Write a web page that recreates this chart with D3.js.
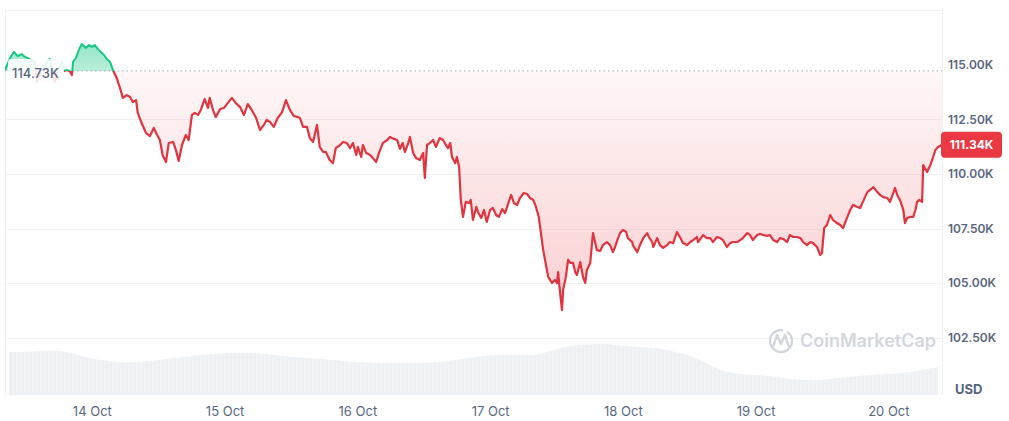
<!DOCTYPE html>
<html>
<head>
<meta charset="utf-8">
<script src="https://cdn.jsdelivr.net/npm/d3@7"></script>
<style>
  html, body { margin: 0; padding: 0; background: #fff; }
  svg { display: block; font-family: Inter, "Noto Sans", sans-serif; }
</style>
</head>
<body>
<svg width="1009" height="421"></svg>
<script>
// hours since 13 Oct 00:00, price in thousands of USD
const priceSeries = [
  [8.3,114.77],[9.2,115.32],[9.9,115.60],[10.6,115.41],[11.3,115.50],[11.9,115.37],[12.4,115.32],
  [13.7,115.14],[14.1,114.22],[15.0,114.86],[16.4,115.28],[17.3,114.22],[17.9,114.77],[18.6,115.14],
  [18.9,114.72],[19.5,114.77],[20.0,114.72],[20.4,114.54],[20.6,115.14],[21.1,115.32],[21.8,115.78],
  [22.2,115.96],[22.9,115.78],[23.5,115.92],[24.0,115.83],[24.5,115.92],[25.1,115.73],[25.6,115.60],
  [26.2,115.46],[26.7,115.28],[27.3,115.14],[27.8,114.77],[28.5,114.40],[29.1,113.94],[29.6,113.49],
  [30.3,113.62],[30.9,113.53],[31.4,113.30],[32.0,113.39],[32.3,112.80],[33.0,112.34],[33.8,111.88],
  [34.5,111.74],[35.2,112.11],[35.8,111.79],[36.3,111.56],[36.8,110.87],[37.4,110.55],[37.9,111.42],
  [38.7,111.47],[39.2,111.10],[39.7,110.60],[40.3,111.33],[41.0,111.79],[41.5,111.56],[42.1,112.71],
  [42.6,112.80],[43.2,112.71],[43.7,112.94],[44.4,113.44],[45.0,113.03],[45.3,113.49],[45.9,112.94],
  [46.4,112.61],[47.2,112.98],[47.9,113.03],[48.6,113.26],[49.3,113.49],[50.0,113.26],[50.8,113.07],
  [51.5,112.71],[52.2,113.21],[52.9,112.94],[53.7,112.57],[54.4,112.02],[55.1,112.25],[55.6,112.48],
  [56.2,112.39],[56.9,112.16],[57.6,112.57],[58.4,112.84],[59.1,113.39],[59.8,112.94],[60.5,112.66],
  [61.3,112.61],[61.6,112.57],[62.2,112.16],[62.9,112.16],[63.4,111.65],[64.0,111.47],[64.7,112.25],
  [65.2,111.24],[65.8,111.01],[66.3,111.01],[67.0,110.64],[67.6,110.50],[68.1,111.19],[68.9,111.33],
  [69.4,111.47],[70.1,111.42],[70.7,111.19],[71.2,111.42],[71.8,110.87],[72.1,111.24],[72.7,110.78],
  [73.0,111.33],[73.6,110.96],[74.3,110.87],[74.8,110.73],[75.4,110.55],[75.9,110.96],[76.6,111.42],
  [77.4,111.56],[77.9,111.70],[78.6,111.61],[79.2,111.56],[79.7,111.15],[80.2,111.42],[80.6,111.01],
  [81.2,111.42],[81.5,111.70],[82.1,110.96],[82.6,110.73],[83.3,110.64],[83.9,110.96],[84.2,109.82],
  [84.6,111.33],[85.1,111.42],[85.7,111.56],[86.2,111.24],[86.9,111.65],[87.5,111.56],[88.0,111.33],
  [88.4,111.19],[88.8,111.42],[89.1,110.78],[89.7,110.50],[90.0,110.78],[90.4,110.32],[90.7,108.81],
  [91.1,108.03],[91.6,108.72],[92.2,108.67],[92.5,108.81],[92.9,107.89],[93.5,108.49],[93.8,108.26],
  [94.4,107.98],[94.9,108.35],[95.4,107.80],[96.0,108.35],[96.5,108.44],[97.1,108.12],[97.6,108.03],
  [98.2,108.39],[98.7,108.21],[99.2,108.58],[99.8,109.04],[100.3,108.67],[100.9,108.58],[101.4,108.90],
  [102.1,109.13],[102.7,109.08],[103.2,108.90],[103.8,108.81],[104.3,108.49],[104.8,108.03],[105.6,106.51],
  [106.5,105.28],[107.2,105.00],[107.7,105.14],[108.1,105.00],[108.3,105.50],[108.6,104.68],[109.0,103.76],
  [109.2,104.68],[109.7,105.28],[110.1,106.06],[110.5,105.92],[111.0,105.92],[111.4,105.50],[111.7,105.37],
  [112.3,105.96],[112.8,105.28],[113.2,105.00],[113.5,105.60],[114.1,105.92],[114.6,107.29],[115.3,106.51],
  [115.9,106.47],[116.4,106.74],[117.1,106.88],[117.7,106.74],[118.2,106.42],[118.6,106.65],[119.0,106.97],
  [119.5,107.29],[120.0,107.43],[120.6,107.34],[120.9,107.06],[121.7,106.88],[121.8,106.74],[122.6,106.42],
  [123.1,106.74],[123.7,107.06],[124.4,107.29],[124.7,107.11],[125.3,106.88],[125.5,106.65],[126.2,107.06],
  [126.7,106.74],[127.3,106.61],[128.0,106.74],[128.5,106.88],[129.1,106.83],[129.4,107.06],[129.8,107.34],
  [130.3,107.11],[130.9,106.83],[131.6,106.74],[132.2,106.88],[132.7,106.97],[133.4,107.11],[133.6,106.88],
  [134.5,107.20],[135.2,107.06],[135.8,107.06],[136.3,106.88],[137.0,107.11],[137.6,107.06],[138.1,106.97],
  [138.8,106.65],[139.4,106.83],[139.9,106.88],[140.7,106.88],[141.2,106.97],[141.7,107.06],[142.5,107.29],
  [143.0,107.20],[143.5,106.97],[144.3,107.20],[144.8,107.25],[145.4,107.20],[146.1,107.16],[146.6,107.20],
  [147.2,106.97],[147.9,106.88],[148.4,107.06],[149.0,107.02],[149.7,106.88],[150.2,107.20],[150.8,107.11],
  [151.5,107.11],[152.1,107.06],[152.6,106.88],[153.3,106.74],[153.9,106.88],[154.4,106.83],[155.1,106.65],
  [155.7,106.28],[156.0,106.38],[156.4,107.52],[156.9,107.66],[157.5,108.12],[158.0,107.89],[158.7,107.75],
  [159.3,107.66],[159.8,107.52],[160.6,108.03],[161.1,108.35],[161.6,108.58],[162.4,108.49],[162.9,108.44],
  [163.4,108.72],[164.2,109.17],[164.7,109.27],[165.3,109.40],[166.0,109.17],[166.5,109.04],[167.1,108.94],
  [167.8,108.90],[168.3,108.72],[168.9,109.13],[169.2,109.36],[169.6,109.04],[170.1,108.81],[170.7,108.35],
  [171.0,107.75],[171.4,107.98],[171.9,108.03],[172.5,108.03],[172.9,108.35],[173.2,108.72],[173.6,108.81],
  [174.1,108.72],[174.3,110.41],[175.0,110.09],[175.6,110.41],[176.1,110.78],[176.5,111.10],[177.0,111.24],
  [177.7,111.34]
];

// 24h volume every 3 hours (billions USD, estimated)
const volumeHours = d3.range(9, 178, 3);
const volumeValues = [
  4.3,4.3,4.4,4.5,4.1,3.6,3.4,3.2,3.3,3.5,3.7,3.9,4.1,4.2,4.2,4.2,4.0,3.8,3.7,3.6,
  3.4,3.3,3.2,3.2,3.2,3.2,3.3,3.5,3.8,4.0,4.0,4.0,4.0,4.6,5.0,5.1,5.1,4.9,4.8,4.7,
  4.4,4.0,3.2,2.4,2.1,2.0,1.9,1.6,1.5,1.5,1.7,1.9,2.0,2.1,2.2,2.5,2.8
];

const openPrice = 114.73;
const lastPrice = 111.34;
const yTicks = [102.5, 105, 107.5, 110, 112.5, 115];
const dayTicks = [14, 15, 16, 17, 18, 19, 20];

const svg = d3.select("svg");
const plotLeft = 5, plotRight = 942, plotTop = 10, plotBottom = 395;

const start = new Date(2025, 9, 13);
const toDate = h => new Date(start.getTime() + h * 3600e3);

const x = d3.scaleTime()
  .domain([toDate(priceSeries[0][0]), toDate(priceSeries[priceSeries.length - 1][0])])
  .range([plotLeft, plotRight]);

const y = d3.scaleLinear().domain([102.5, 115]).range([337.5, 65]);
const vy = d3.scaleLinear().domain([0, 6]).range([plotBottom, plotBottom - 60]);

const defs = svg.append("defs");
const yBase = y(openPrice);

const redGrad = defs.append("linearGradient").attr("id", "redFill")
  .attr("gradientUnits", "userSpaceOnUse").attr("x1", 0).attr("x2", 0)
  .attr("y1", yBase).attr("y2", y(d3.min(priceSeries, d => d[1])));
redGrad.append("stop").attr("offset", 0).attr("stop-color", "#ea3943").attr("stop-opacity", 0.04);
redGrad.append("stop").attr("offset", 1).attr("stop-color", "#ea3943").attr("stop-opacity", 0.24);

const greenGrad = defs.append("linearGradient").attr("id", "greenFill")
  .attr("gradientUnits", "userSpaceOnUse").attr("x1", 0).attr("x2", 0)
  .attr("y1", y(d3.max(priceSeries, d => d[1]))).attr("y2", yBase);
greenGrad.append("stop").attr("offset", 0).attr("stop-color", "#16c784").attr("stop-opacity", 0.45);
greenGrad.append("stop").attr("offset", 1).attr("stop-color", "#16c784").attr("stop-opacity", 0.3);

defs.append("clipPath").attr("id", "above").append("rect")
  .attr("x", plotLeft).attr("y", plotTop).attr("width", plotRight - plotLeft).attr("height", yBase - plotTop);
defs.append("clipPath").attr("id", "below").append("rect")
  .attr("x", plotLeft).attr("y", yBase).attr("width", plotRight - plotLeft).attr("height", plotBottom - yBase);

// frame + grid
svg.append("g").selectAll("line").data(yTicks.filter(t => t < 115)).join("line")
  .attr("x1", plotLeft).attr("x2", plotRight)
  .attr("y1", d => Math.round(y(d)) + 0.5).attr("y2", d => Math.round(y(d)) + 0.5)
  .attr("stroke", "#eff2f5");
svg.append("line").attr("x1", plotLeft).attr("x2", plotRight).attr("y1", plotTop + 0.5).attr("y2", plotTop + 0.5).attr("stroke", "#eff2f5");
svg.append("line").attr("x1", plotLeft + 0.5).attr("x2", plotLeft + 0.5).attr("y1", plotTop).attr("y2", plotBottom).attr("stroke", "#eff2f5");
svg.append("line").attr("x1", plotRight + 0.5).attr("x2", plotRight + 0.5).attr("y1", plotTop).attr("y2", plotBottom).attr("stroke", "#eff2f5");

// volume
const volData = volumeHours.map((h, i) => [toDate(h), volumeValues[i]]);
svg.append("path").datum(volData)
  .attr("fill", "#eef1f4")
  .attr("d", d3.area().curve(d3.curveBasis)
    .x(d => x(d[0])).y0(plotBottom).y1(d => vy(d[1])));
svg.append("g").selectAll("line").data(d3.range(plotLeft + 4, plotRight, 4)).join("line")
  .attr("x1", d => d).attr("x2", d => d).attr("y1", 335).attr("y2", plotBottom)
  .attr("stroke", "#fff").attr("stroke-opacity", 0.35);

// watermark
const wm = svg.append("g").attr("fill", "none").attr("stroke", "#d3d7dd");
wm.append("path").attr("stroke-width", 2.4)
  .attr("d", d3.arc()({ innerRadius: 11, outerRadius: 11, startAngle: 0.6, endAngle: 2 * Math.PI + 0.2 }))
  .attr("transform", "translate(781,341)");
wm.append("path").attr("stroke-width", 2.4).attr("stroke-linejoin", "round")
  .attr("d", "M773,347 L777,335 L781,344 L785,335 L789,347");
svg.append("text").attr("x", 800).attr("y", 347).attr("font-size", 18).attr("font-weight", 600)
  .attr("fill", "#d3d7dd").text("CoinMarketCap");

// price areas and line
const pts = priceSeries.map(d => [toDate(d[0]), d[1]]);
const area = d3.area().x(d => x(d[0])).y0(yBase).y1(d => y(d[1]));
const line = d3.line().x(d => x(d[0])).y(d => y(d[1]));

svg.append("path").datum(pts).attr("clip-path", "url(#above)").attr("fill", "url(#greenFill)").attr("d", area);
svg.append("path").datum(pts).attr("clip-path", "url(#below)").attr("fill", "url(#redFill)").attr("d", area);

svg.append("line").attr("x1", plotLeft).attr("x2", plotRight).attr("y1", yBase).attr("y2", yBase)
  .attr("stroke", "#9aa3b0").attr("stroke-dasharray", "1.5,3");

svg.append("path").datum(pts).attr("clip-path", "url(#above)").attr("fill", "none")
  .attr("stroke", "#16c784").attr("stroke-width", 2).attr("stroke-linejoin", "round").attr("d", line);
svg.append("path").datum(pts).attr("clip-path", "url(#below)").attr("fill", "none")
  .attr("stroke", "#e0343f").attr("stroke-width", 2.2).attr("stroke-linejoin", "round").attr("d", line);

// open price label
svg.append("rect").attr("x", 8).attr("y", 59).attr("width", 56).attr("height", 25).attr("rx", 3)
  .attr("fill", "#fff").attr("fill-opacity", 0.88);
svg.append("text").attr("x", 12).attr("y", 78).attr("font-size", 13).attr("font-weight", 500)
  .attr("fill", "#58667e").text(d3.format(".2f")(openPrice) + "K");

// y axis
const yAxis = svg.append("g").attr("transform", `translate(${plotRight},0)`)
  .call(d3.axisRight(y).tickValues(yTicks).tickSize(0).tickPadding(6).tickFormat(d => d3.format(".2f")(d) + "K"));
yAxis.select(".domain").remove();
yAxis.selectAll("text").attr("font-size", 12).attr("font-weight", 600).attr("fill", "#58667e")
  .attr("font-family", "Inter, sans-serif");

svg.append("text").attr("x", 955).attr("y", 394).attr("font-size", 13).attr("font-weight", 700)
  .attr("fill", "#58667e").text("USD");

// x axis
const xAxis = svg.append("g").attr("transform", `translate(0,${plotBottom})`)
  .call(d3.axisBottom(x).tickValues(dayTicks.map(d => new Date(2025, 9, d)))
    .tickSize(0).tickPadding(12).tickFormat(d3.timeFormat("%-d %b")));
xAxis.select(".domain").remove();
xAxis.selectAll("text").attr("font-size", 13).attr("fill", "#58667e").attr("font-family", "Inter, sans-serif");

// last price tag
const yLast = y(lastPrice);
svg.append("rect").attr("x", plotRight - 1).attr("y", yLast - 13).attr("width", 61).attr("height", 26)
  .attr("rx", 4).attr("fill", "#ea3943");
svg.append("text").attr("x", plotRight + 29.5).attr("y", yLast + 4.5).attr("text-anchor", "middle")
  .attr("font-size", 12).attr("font-weight", 700).attr("fill", "#fff")
  .text(d3.format(".2f")(lastPrice) + "K");
</script>
</body>
</html>
